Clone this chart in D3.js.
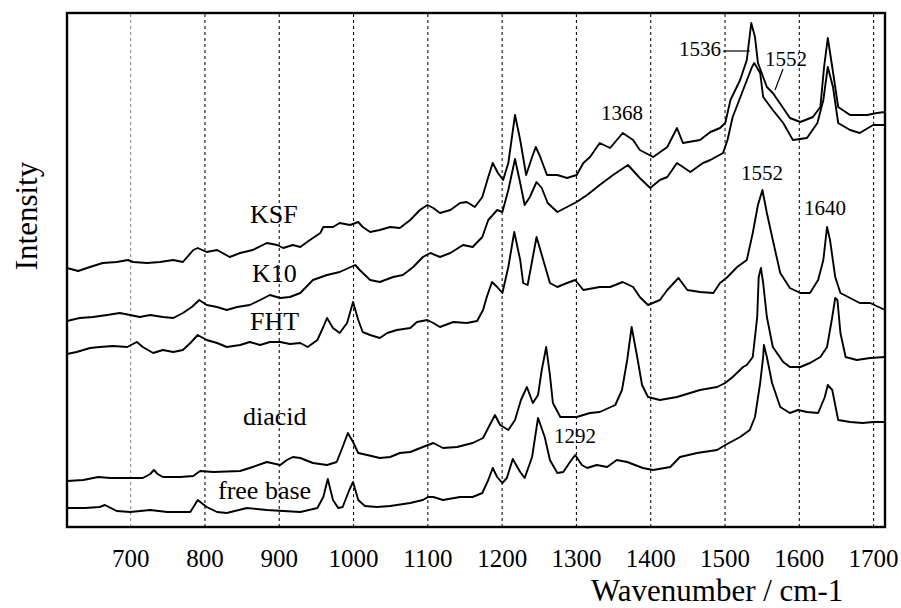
<!DOCTYPE html>
<html>
<head>
<meta charset="utf-8">
<script src="https://cdn.jsdelivr.net/npm/d3@7"></script>
<style>
  html, body { margin: 0; padding: 0; background: #fff; }
  svg { display: block; }
  text { font-family: "Liberation Serif", "Times New Roman", serif; fill: #000; }
</style>
</head>
<body>
<svg id="chart" width="901" height="608"></svg>
<script>
// ---- data (wavenumber / cm-1, intensity in arbitrary units) ----
const tickValues = [700, 800, 900, 1000, 1100, 1200, 1300, 1400, 1500, 1600, 1700];
const seriesNames = ["KSF", "K10", "FHT", "diacid", "free base"];

const ksf = [[615,259],[630,256],[646,260],[663,264],[682,265],[697,267],[704,265],[723,264],[740,265],[758,267],[771,265],[785,277],[791,279],[803,275],[817,277],[834,270],[848,274],[865,277],[884,284],[898,282],[906,279],[919,282],[929,280],[942,287],[956,294],[960,300],[973,300],[982,304],[996,302],[1007,305],[1013,300],[1023,295],[1036,297],[1050,300],[1063,299],[1077,307],[1090,317],[1100,322],[1108,319],[1117,314],[1131,317],[1144,324],[1153,325],[1164,320],[1174,330],[1182,350],[1188,364],[1195,354],[1202,347],[1209,364],[1218,412],[1225,387],[1233,352],[1241,370],[1246,380],[1252,370],[1261,352],[1275,352],[1288,349],[1301,352],[1310,364],[1319,370],[1332,384],[1346,379],[1363,394],[1377,387],[1386,377],[1404,370],[1423,380],[1436,399],[1444,384],[1467,387],[1481,395],[1494,399],[1501,404],[1508,427],[1521,447],[1530,467],[1536,504],[1541,490],[1545,464],[1557,440],[1565,434],[1578,420],[1588,409],[1602,405],[1619,410],[1629,420],[1634,460],[1639,489],[1645,460],[1653,420],[1669,412],[1692,412],[1705,414],[1716,415]];

const k10 = [[615,206],[632,209],[650,210],[669,212],[686,214],[700,212],[713,210],[727,212],[744,210],[758,209],[771,214],[783,220],[793,227],[803,222],[817,220],[830,217],[844,220],[861,222],[875,227],[888,232],[902,229],[915,230],[929,234],[946,247],[965,252],[982,255],[1003,262],[1009,257],[1023,247],[1036,245],[1054,250],[1067,252],[1081,260],[1094,270],[1104,274],[1117,270],[1131,274],[1148,282],[1161,280],[1174,290],[1182,307],[1194,317],[1201,315],[1209,337],[1218,368],[1225,344],[1231,322],[1238,330],[1247,345],[1254,339],[1262,324],[1275,315],[1288,320],[1301,325],[1315,332],[1332,342],[1350,352],[1370,362],[1386,349],[1400,339],[1413,347],[1423,350],[1436,364],[1454,355],[1471,364],[1481,367],[1498,374],[1504,387],[1511,410],[1525,437],[1537,460],[1540,464],[1548,454],[1552,430],[1565,417],[1579,404],[1592,387],[1611,389],[1625,404],[1633,427],[1639,460],[1646,440],[1653,404],[1669,397],[1682,394],[1700,402],[1716,402]];

const fht = [[615,173],[628,175],[646,179],[659,180],[677,181],[696,180],[709,185],[717,180],[731,174],[744,177],[758,175],[771,177],[781,184],[791,192],[803,187],[817,184],[830,180],[848,182],[861,185],[875,182],[888,185],[902,185],[915,183],[929,184],[939,180],[952,187],[960,200],[965,209],[973,199],[982,194],[992,204],[1000,225],[1007,207],[1013,195],[1023,192],[1036,189],[1046,194],[1059,197],[1077,199],[1086,205],[1100,207],[1108,204],[1117,200],[1135,205],[1153,204],[1167,206],[1175,217],[1180,230],[1187,245],[1194,240],[1201,234],[1209,260],[1217,295],[1225,267],[1229,244],[1235,242],[1242,270],[1247,290],[1256,267],[1265,244],[1275,240],[1288,244],[1299,247],[1310,237],[1332,240],[1346,240],[1363,245],[1377,240],[1386,230],[1397,222],[1413,227],[1423,237],[1438,249],[1450,237],[1467,235],[1485,234],[1494,244],[1504,250],[1517,260],[1530,267],[1538,294],[1545,322],[1551,337],[1557,314],[1565,287],[1575,254],[1588,239],[1602,234],[1615,234],[1626,247],[1633,267],[1638,300],[1642,287],[1649,250],[1656,234],[1669,229],[1682,224],[1696,224],[1716,217]];

const diacid = [[615,46],[637,47],[657,50],[673,49],[700,49],[717,49],[727,53],[732,57],[737,53],[744,50],[767,50],[785,51],[794,56],[812,55],[848,56],[865,60],[884,65],[902,62],[911,67],[919,70],[929,69],[946,64],[965,62],[978,65],[986,80],[993,94],[1000,85],[1007,74],[1019,72],[1036,69],[1050,70],[1063,74],[1077,75],[1094,80],[1108,84],[1121,79],[1140,80],[1161,84],[1175,89],[1184,102],[1191,112],[1198,102],[1209,97],[1218,107],[1226,127],[1234,140],[1242,124],[1249,132],[1254,157],[1260,180],[1265,152],[1269,124],[1279,110],[1301,110],[1319,114],[1332,115],[1353,122],[1362,137],[1369,167],[1375,200],[1382,172],[1389,142],[1397,130],[1413,127],[1436,130],[1467,137],[1490,140],[1501,144],[1511,150],[1525,160],[1530,162],[1538,170],[1544,210],[1546,250],[1549,259],[1552,244],[1557,210],[1565,180],[1579,165],[1588,160],[1602,160],[1615,164],[1629,170],[1638,180],[1645,210],[1649,229],[1652,227],[1656,194],[1663,170],[1678,167],[1696,169],[1716,170]];

const freeBase = [[615,19],[639,19],[659,20],[666,22],[682,16],[700,15],[727,17],[750,15],[781,15],[791,27],[803,20],[817,15],[830,14],[857,19],[884,17],[906,16],[929,15],[952,19],[960,30],[966,48],[973,27],[980,19],[986,20],[995,37],[1000,45],[1007,27],[1016,21],[1032,20],[1050,21],[1077,24],[1094,27],[1101,30],[1108,30],[1121,27],[1144,30],[1161,30],[1174,34],[1182,47],[1188,59],[1194,50],[1201,44],[1207,49],[1215,68],[1225,55],[1231,49],[1241,70],[1249,109],[1258,90],[1265,67],[1275,54],[1283,55],[1292,65],[1299,72],[1308,62],[1315,59],[1328,62],[1342,60],[1355,67],[1369,65],[1390,59],[1404,57],[1427,60],[1440,70],[1463,74],[1490,77],[1501,82],[1521,90],[1534,97],[1541,110],[1548,144],[1552,170],[1553,182],[1557,170],[1564,144],[1575,120],[1588,114],[1599,117],[1611,115],[1626,114],[1635,130],[1639,142],[1645,137],[1653,107],[1669,105],[1686,104],[1700,105],[1716,105]];

const peakLabels = ["1536", "1552", "1368", "1552", "1640", "1292"];

// ---- layout ----
const svg = d3.select("#chart");
const mLeft = 67, mRight = 885, mTop = 13, mBottom = 527;

const x = d3.scaleLinear().domain([615, 1716]).range([mLeft, mRight]);
const y = d3.scaleLinear().domain([0, 514]).range([mBottom, mTop]);

// dotted grid lines
const grid = svg.append("g")
  .attr("transform", `translate(0,${mBottom})`)
  .call(d3.axisBottom(x).tickValues(tickValues).tickSize(-(mBottom - mTop)).tickFormat(""));
grid.select(".domain").remove();
grid.selectAll(".tick line")
  .attr("stroke", (d) => d === 700 ? "#8a8a8a" : "#111")
  .attr("stroke-width", 1.1)
  .attr("stroke-dasharray", "3,3");

// tick labels
const ax = svg.append("g")
  .attr("transform", `translate(0,${mBottom})`)
  .call(d3.axisBottom(x).tickValues(tickValues).tickSize(0).tickPadding(22).tickFormat(d3.format("d")));
ax.select(".domain").remove();
ax.selectAll("text")
  .style("font-family", '"Liberation Serif", "Times New Roman", serif')
  .style("font-size", "25px")
  .attr("fill", "#000");

// spectra
const line = d3.line().x(d => x(d[0])).y(d => y(d[1]));
[ksf, k10, fht, diacid, freeBase].forEach(s => {
  svg.append("path")
    .datum(s)
    .attr("d", line)
    .attr("fill", "none")
    .attr("stroke", "#000")
    .attr("stroke-width", 1.9)
    .attr("stroke-linejoin", "round");
});

// frame
svg.append("rect")
  .attr("x", mLeft).attr("y", mTop)
  .attr("width", mRight - mLeft).attr("height", mBottom - mTop)
  .attr("fill", "none").attr("stroke", "#000").attr("stroke-width", 2.4);

// series labels
const labelPos = [[250, 223], [252, 282], [250, 330], [243, 425], [218, 499]];
seriesNames.forEach((n, i) => {
  svg.append("text")
    .attr("x", labelPos[i][0]).attr("y", labelPos[i][1])
    .style("font-size", "26px")
    .text(n);
});

// peak labels
const peakPos = [
  [721, 56, "end"], [765, 66, "start"], [622, 120, "middle"],
  [762, 180, "middle"], [825, 215, "middle"], [575, 443, "middle"]
];
peakLabels.forEach((t, i) => {
  svg.append("text")
    .attr("x", peakPos[i][0]).attr("y", peakPos[i][1])
    .attr("text-anchor", peakPos[i][2])
    .style("font-size", "21px")
    .text(t);
});
// leader lines
svg.append("line").attr("x1", 723).attr("y1", 51).attr("x2", x(1534)).attr("y2", 51)
  .attr("stroke", "#000").attr("stroke-width", 1.2);
svg.append("line").attr("x1", 783).attr("y1", 69).attr("x2", 775).attr("y2", 90)
  .attr("stroke", "#000").attr("stroke-width", 1.2);

// axis titles
svg.append("text")
  .attr("x", 591).attr("y", 601)
  .style("font-size", "31px")
  .text("Wavenumber / cm-1");

svg.append("text")
  .attr("transform", "translate(37,216) rotate(-90)")
  .attr("text-anchor", "middle")
  .style("font-size", "31px")
  .text("Intensity");
</script>
</body>
</html>
